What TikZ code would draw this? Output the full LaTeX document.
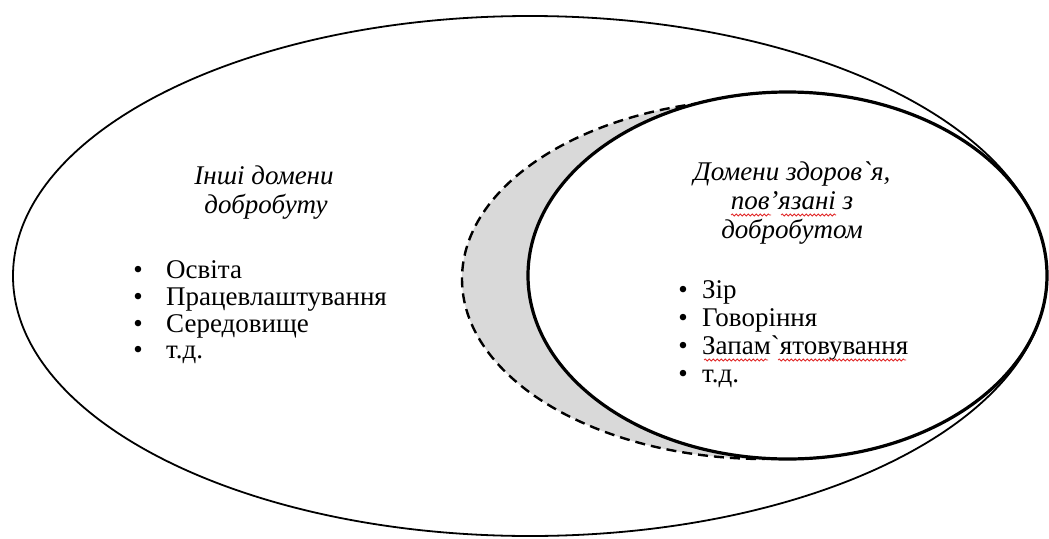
\documentclass[tikz,border=0pt]{standalone}
\usepackage{fontspec}
\setmainfont{Liberation Serif}
\newfontfamily\gravefont{Liberation Serif}[Ligatures=TeXOff]
\newcommand{\grv}{{\gravefont\symbol{96}}}
\usetikzlibrary{decorations.pathmorphing}
\definecolor{crescent}{RGB}{217,217,217}
\definecolor{spellred}{RGB}{225,40,40}
\begin{document}
\begin{tikzpicture}[x=1pt,y=-1pt,
  bigring/.style={draw=black,line width=1.8pt},
  innerring/.style={draw=black,line width=3.2pt,fill=white},
  dashring/.style={draw=black,line width=2.4pt,dash pattern=on 10pt off 6pt},
  txt/.style={inner sep=0pt,font=\fontsize{27}{30}\selectfont},
  ttl/.style={txt,anchor=base,font=\fontsize{27}{30}\selectfont\itshape},
  itm/.style={txt,anchor=base west},
  bul/.style={txt,anchor=base},
  spell/.style={draw=spellred,line width=0.8pt,decorate,decoration={snake,amplitude=1pt,segment length=4pt}}]
\useasboundingbox (0,0) rectangle (1049,538);
% outer ellipse
\draw[bigring] (530,276) ellipse[x radius=517, y radius=260];
% crescent (dashed ellipse, left half)
\fill[crescent] (765,99) arc[start angle=270,end angle=90,x radius=303,y radius=180] -- cycle;
\draw[dashring] (765,99) arc[start angle=270,end angle=90,x radius=303,y radius=180];
% inner solid ellipse
\draw[innerring] (787.5,275.5) ellipse[x radius=259.5, y radius=183.5];
% left texts
\node[ttl] (lt1) at (264,184) {Інші домени};
\node[ttl] (lt2) at (266,213) {добробуту};
\node[bul] (lb1) at (138,278) {•};
\node[bul] (lb2) at (138,305) {•};
\node[bul] (lb3) at (138,332) {•};
\node[bul] (lb4) at (138,358) {•};
\node[itm] (li1) at (166,278) {Освіта};
\node[itm] (li2) at (166,305) {Працевлаштування};
\node[itm] (li3) at (166,332) {Середовище};
\node[itm] (li4) at (166,358) {т.д.};
% right texts
\node[ttl] (rt1) at (792,180) {Домени здоров\grv я,};
\node[ttl] (rt2) at (792,209) {пов’язані з};
\node[ttl] (rt3) at (792,238) {добробутом};
\node[bul] (rb1) at (683,298) {•};
\node[bul] (rb2) at (683,326) {•};
\node[bul] (rb3) at (683,354) {•};
\node[bul] (rb4) at (683,382) {•};
\node[itm] (ri1) at (702,298) {Зір};
\node[itm] (ri2) at (702,326) {Говоріння};
\node[itm] (ri3) at (702,354) {Запам\grv ятовування};
\node[itm] (ri4) at (702,382) {т.д.};
% spell-check underlines
\draw[spell] (731,215) -- (771,215);
\draw[spell] (781,215) -- (836,215);
\draw[spell] (704,360) -- (768,360);
\draw[spell] (778,360) -- (906,360);
\end{tikzpicture}
\end{document}
